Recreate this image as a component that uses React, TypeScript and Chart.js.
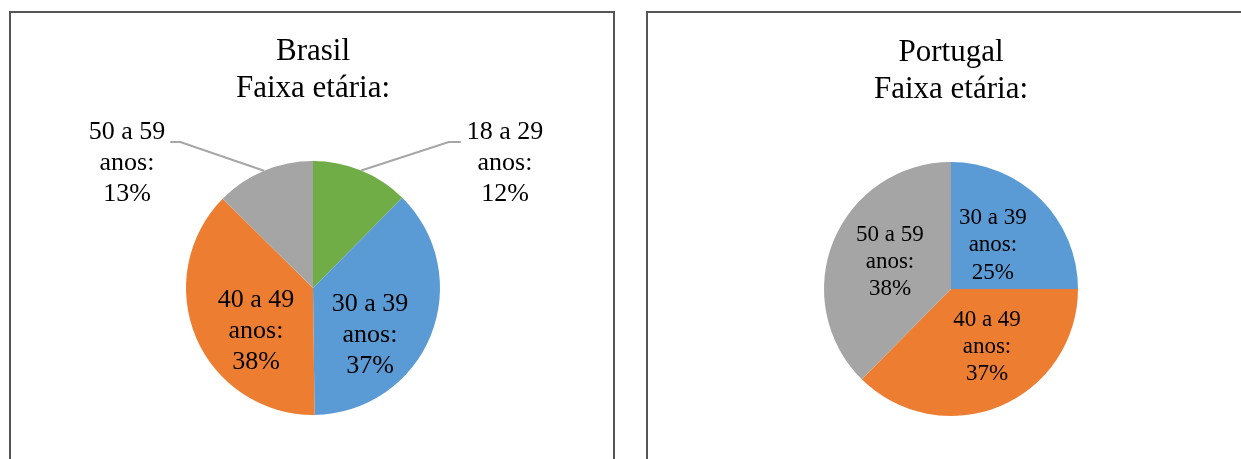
import React, { useEffect, useRef } from "react";
import { Chart, registerables } from "chart.js";

Chart.register(...registerables);

// ---- data (slice sizes; labels show rounded %) ----
const brasilCategories = ["18 a 29", "30 a 39", "40 a 49", "50 a 59"];
const brasilValues = [12.4, 37.4, 37.6, 12.6];
const brasilColors = ["#70AD47", "#5B9BD5", "#ED7D31", "#A5A5A5"];

const portugalCategories = ["30 a 39", "40 a 49", "50 a 59"];
const portugalValues = [25, 37.4, 37.6];
const portugalColors = ["#5B9BD5", "#ED7D31", "#A5A5A5"];

const unitText = "anos:";
const titleSubtitle = "Faixa etária:";

// ---- label placement (nudges relative to slice centroid) ----
const brasilNudges = [
  { dx: 167.9, dy: -66.3, outside: true },
  { dx: -1.9, dy: 23.5 },
  { dx: 1.4, dy: 18 },
  { dx: -161.5, dy: -66.4, outside: true },
];
const portugalNudges = [
  { dx: -3, dy: 1 },
  { dx: 11.5, dy: -0.6 },
  { dx: -2.3, dy: -2.9 },
];

const FAMILY = '"Liberation Serif", "Times New Roman", serif';

const sliceLabels = {
  id: "sliceLabels",
  afterDatasetsDraw(chart: any, _args: any, opts: any) {
    const ctx = chart.ctx;
    const meta = chart.getDatasetMeta(0);
    const ds = chart.data.datasets[0];
    const size = opts.size;
    const lh = size * opts.lineHeight;
    ctx.save();
    ctx.font = `${size}px ${FAMILY}`;
    ctx.textAlign = "center";
    ctx.textBaseline = "middle";
    meta.data.forEach((arc: any, i: number) => {
      const p = arc.getProps(["x", "y", "startAngle", "endAngle", "outerRadius"], true);
      const c = arc.tooltipPosition(true);
      const n = opts.nudges[i] || { dx: 0, dy: 0 };
      const cx = c.x + n.dx;
      const cy = c.y + n.dy;
      const lines = [chart.data.labels[i], unitText, Math.round(ds.data[i]) + "%"];
      ctx.fillStyle = "#000";
      lines.forEach((t: string, k: number) => {
        ctx.fillText(t, cx, cy + (k - 1) * lh);
      });
      if (n.outside) {
        const w = Math.max(...lines.map((t: string) => ctx.measureText(t).width));
        const mid = (p.startAngle + p.endAngle) / 2;
        const ex = p.x + Math.cos(mid) * p.outerRadius;
        const ey = p.y + Math.sin(mid) * p.outerRadius;
        const ly = cy - lh + 10;
        let endX: number, elbowX: number;
        if (cx > p.x) {
          endX = cx - w / 2 - 6;
          elbowX = cx - w / 2 - 18;
        } else {
          endX = cx + w / 2 + 5;
          elbowX = cx + w / 2 + 15;
        }
        ctx.strokeStyle = "#A6A6A6";
        ctx.lineWidth = 2;
        ctx.beginPath();
        ctx.moveTo(ex, ey);
        ctx.lineTo(elbowX, ly);
        ctx.lineTo(endX, ly);
        ctx.stroke();
      }
    });
    ctx.restore();
  },
};

type PieProps = {
  country: string;
  categories: string[];
  values: number[];
  colors: string[];
  nudges: any[];
  labelSize: number;
  left: number;
  top: number;
};

function PieChart({ country, categories, values, colors, nudges, labelSize, left, top }: PieProps) {
  const ref = useRef<HTMLCanvasElement | null>(null);
  useEffect(() => {
    if (!ref.current) return;
    const chart = new Chart(ref.current, {
      type: "pie",
      data: {
        labels: categories,
        datasets: [
          {
            data: values,
            backgroundColor: colors,
            borderWidth: 0,
            hoverOffset: 0,
            offset: 0,
          } as any,
        ],
      },
      options: {
        responsive: false,
        animation: false,
        events: [],
        layout: { padding: { top: 0, bottom: 44, left: 0, right: 0 } },
        plugins: {
          legend: { display: false },
          tooltip: { enabled: false },
          title: {
            display: true,
            text: [country, titleSubtitle],
            color: "#000",
            font: { family: FAMILY, size: 31, weight: "normal", lineHeight: 1.2 },
            padding: { top: 20, bottom: 53.6 },
          },
          sliceLabels: { nudges, size: labelSize, lineHeight: 1.19 },
        } as any,
      },
      plugins: [sliceLabels],
    });
    return () => chart.destroy();
  }, []);
  return (
    <canvas
      ref={ref}
      width={606}
      height={446}
      style={{ position: "absolute", left, top, width: 606, height: 446 }}
    />
  );
}

export default function App() {
  return (
    <div style={{ position: "fixed", left: 0, top: 0, width: 1241, height: 459, overflow: "hidden", background: "#fff" }}>
      <div
        style={{
          position: "absolute",
          left: 9,
          top: 11,
          width: 606,
          height: 470,
          boxSizing: "border-box",
          border: "2px solid #555",
        }}
      />
      <div
        style={{
          position: "absolute",
          left: 646,
          top: 11,
          width: 620,
          height: 470,
          boxSizing: "border-box",
          border: "2px solid #555",
        }}
      />
      <PieChart
        country="Brasil"
        categories={brasilCategories}
        values={brasilValues}
        colors={brasilColors}
        nudges={brasilNudges}
        labelSize={26}
        left={10}
        top={13}
      />
      <PieChart
        country="Portugal"
        categories={portugalCategories}
        values={portugalValues}
        colors={portugalColors}
        nudges={portugalNudges}
        labelSize={23}
        left={648}
        top={14}
      />
    </div>
  );
}
